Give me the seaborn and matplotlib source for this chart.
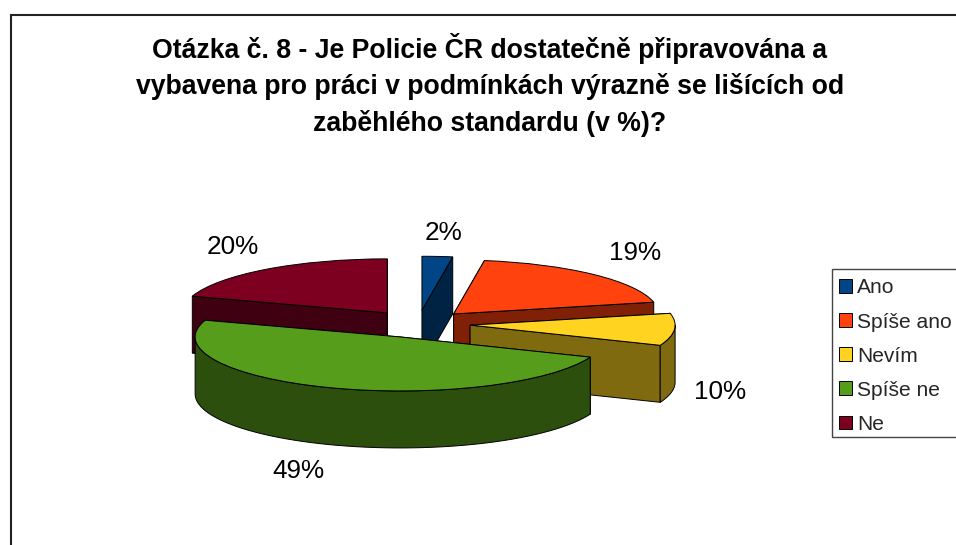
import numpy as np
import matplotlib
matplotlib.use("Agg")
import matplotlib.pyplot as plt
from matplotlib.colors import to_rgb
from matplotlib.patches import Polygon, Rectangle
import seaborn as sns

categories = ["Ano", "Spíše ano", "Nevím", "Spíše ne", "Ne"]
shares = [2.4, 19.1, 9.6, 48.9, 20.0]
colors = ["#004586", "#ff420e", "#ffd320", "#579d1c", "#7e0021"]

title = ("Otázka č. 8 - Je Policie ČR dostatečně připravována a\n"
         "vybavena pro práci v podmínkách výrazně se lišících od\n"
         "zaběhlého standardu (v %)?")

W, H = 956, 545
# pie centre and ellipse radii in pixels, wall height in pie units
CX, CY, RX, RY = 418, 324, 205, 54
DEPTH = 57 / RY

sns.set_theme(style="white")
plt.rcParams["font.family"] = ["Liberation Sans", "DejaVu Sans"]

fig = plt.figure(figsize=(W / 100, H / 100), dpi=100)
ax = fig.add_axes([0, 0, 1, 1])

wedges, _ = ax.pie(shares, colors=colors, startangle=90, counterclock=False,
                   explode=[0.255] * len(shares),
                   wedgeprops={"edgecolor": "black", "linewidth": 0.7})

# the pie is squashed into an ellipse by the axes limits
ax.set_aspect("auto")
ax.set_xlim(-CX / RX, (W - CX) / RX)
ax.set_ylim((CY - H) / RY, CY / RY)
ax.set_axis_off()


def wall(points, color, z):
    pts = np.array(points)
    low = pts - [0, DEPTH]
    ax.add_patch(Polygon(np.vstack([pts, low[::-1]]), closed=True, facecolor=color,
                         edgecolor="black", linewidth=0.7, zorder=z))


# back slices first, so the front ones cover them
order = [4, 0, 1, 2, 3]
for i, idx in enumerate(order):
    w = wedges[idx]
    side = np.array(to_rgb(colors[idx])) * 0.5
    base = 10 + i * 10
    c = np.array(w.center)
    t1, t2 = w.theta1, w.theta2

    faces = []
    for t in (t1, t2):
        rim = c + w.r * np.array([np.cos(np.radians(t)), np.sin(np.radians(t))])
        faces.append([c, rim])
    # outer arc, only the part on the near side of the ellipse
    angles = []
    for k in (-1, 0, 1):
        lo, hi = max(t1, 180 + 360 * k), min(t2, 360 + 360 * k)
        if lo < hi:
            angles = np.radians(np.linspace(lo, hi, 60))
    if len(angles):
        faces.append(list(c + w.r * np.column_stack([np.cos(angles), np.sin(angles)])))

    faces.sort(key=lambda f: -np.mean([p[1] for p in f]))
    for j, f in enumerate(faces):
        wall(f, side, base + j)
    w.set_zorder(base + 5)

# percent labels
label_pos = [(444, 233), (635, 253), (720, 392), (298, 471), (233, 247)]
for share, (x, y) in zip(shares, label_pos):
    fig.text(x / W, 1 - y / H, f"{share:.0f}%", fontsize=18.8, color="black",
             ha="center", va="center", zorder=200)

fig.text(490 / W, 1 - 85 / H, title, fontsize=19.2, fontweight="bold", color="black",
         ha="center", va="center", linespacing=1.44)

# chart border
fig.add_artist(Rectangle((11 / W, -0.1), 1.2, 1 - 14.5 / H + 0.1, transform=fig.transFigure,
                         fill=False, edgecolor="#222222", linewidth=1.5))

# legend box runs off the right side of the picture
fig.add_artist(Rectangle((832 / W, 1 - 437 / H), 0.3, 168 / H, transform=fig.transFigure,
                         facecolor="white", edgecolor="#444444", linewidth=1, zorder=290))
leg = fig.legend(wedges, categories, loc="upper left", bbox_to_anchor=(832 / W, 1 - 271.5 / H),
                 bbox_transform=fig.transFigure, borderaxespad=0, fontsize=15.1,
                 frameon=False, handlelength=0.64, handleheight=0.64, handletextpad=0.24,
                 labelspacing=0.72, borderpad=0.33)
leg.set_zorder(300)

fig.savefig("out.png", dpi=100)
